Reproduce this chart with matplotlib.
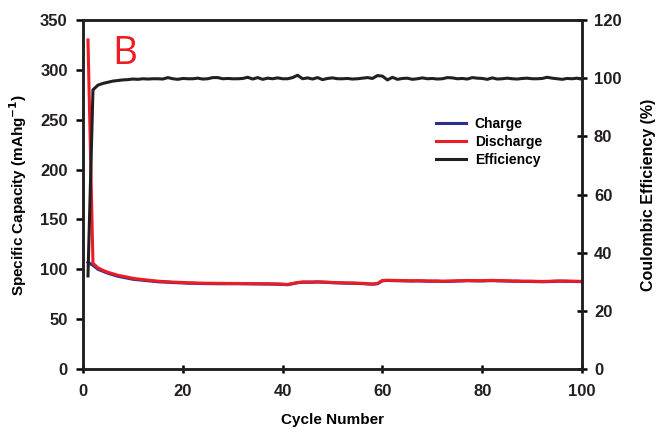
import numpy as np
import matplotlib.pyplot as plt

plt.rcParams['font.family'] = ['Liberation Sans', 'DejaVu Sans']

cycles = list(range(1, 101))

charge = [107, 104, 100, 98, 96, 94.5, 93, 92, 91, 90,
          89.5, 89, 88.5, 88, 87.5, 87.2, 87, 86.7, 86.5, 86.3,
          86, 86, 85.8, 85.7, 85.6, 85.6, 85.5, 85.5, 85.5, 85.5,
          85.5, 85.4, 85.4, 85.3, 85.3, 85.2, 85.2, 85.1, 85, 84.8,
          84.5, 85.5, 86.5, 87, 87, 87, 87.2, 87, 86.8, 86.5,
          86.3, 86.2, 86, 86, 85.8, 85.6, 85.3, 85, 85.5, 88.5,
          88.8, 88.6, 88.5, 88.4, 88.3, 88.2, 88.3, 88.2, 88, 88,
          88, 87.8, 87.9, 88, 88.2, 88.3, 88.5, 88.4, 88.3, 88.3,
          88.5, 88.6, 88.4, 88.3, 88.2, 88, 88, 87.8, 87.8, 87.8,
          87.6, 87.5, 87.6, 87.8, 88, 88, 87.9, 87.8, 87.7, 87.6]

discharge = [330, 106, 101.5, 99, 97, 95.5, 94, 93, 92, 91,
             90.3, 89.7, 89.2, 88.6, 88.1, 87.8, 87.5, 87.2, 87, 86.8,
             86.5, 86.4, 86.2, 86.1, 86, 86, 85.9, 85.9, 85.8, 85.8,
             85.8, 85.7, 85.7, 85.6, 85.6, 85.5, 85.5, 85.4, 85.3, 85.1,
             84.8, 85.8, 86.8, 87.3, 87.3, 87.3, 87.5, 87.3, 87.1, 86.8,
             86.6, 86.5, 86.3, 86.3, 86.1, 85.9, 85.6, 85.3, 85.8, 88.8,
             89, 88.9, 88.8, 88.7, 88.6, 88.5, 88.6, 88.5, 88.3, 88.3,
             88.3, 88.1, 88.2, 88.3, 88.5, 88.6, 88.8, 88.7, 88.6, 88.6,
             88.8, 88.9, 88.7, 88.6, 88.5, 88.3, 88.3, 88.1, 88.1, 88.1,
             87.9, 87.8, 87.9, 88.1, 88.3, 88.3, 88.2, 88.1, 88, 87.9]

efficiency = [32, 96, 97.6, 98.2, 98.6, 99, 99.2, 99.4, 99.5, 99.7,
              99.6, 99.8, 99.7, 99.8, 99.8, 99.7, 100.2, 99.8, 99.6, 99.9,
              99.8, 99.8, 100, 99.7, 99.8, 100.2, 100.2, 99.8, 99.9, 99.8,
              99.8, 99.9, 100.3, 99.7, 100.2, 99.6, 100, 99.8, 100.1, 99.8,
              99.8, 100.2, 101, 99.8, 100.1, 99.7, 100.2, 99.5, 99.9, 100.1,
              99.8, 99.8, 99.9, 99.7, 99.8, 100, 100.2, 99.9, 100.9, 100.7,
              99.4, 100.3, 99.6, 99.9, 100, 99.6, 99.8, 100.1, 99.8, 99.9,
              99.7, 99.8, 100.2, 100.1, 99.8, 99.9, 99.7, 100.2, 100, 99.9,
              99.6, 100.1, 99.7, 99.8, 100, 99.8, 99.7, 99.9, 100, 99.8,
              99.8, 99.9, 100.3, 100, 99.8, 99.6, 99.9, 99.8, 100, 99.6]

fig = plt.figure(figsize=(6.57, 4.33), dpi=100)
ax = fig.add_axes([0.1263, 0.1478, 0.7597, 0.806])
ax2 = ax.twinx()

l1, = ax.plot(cycles, charge, color='#2b2f8f', lw=2.2, label='Charge')
l2, = ax.plot(cycles, discharge, color='#ed1c24', lw=2.2, label='Discharge')
l3, = ax2.plot(cycles, efficiency, color='#231f20', lw=2.2, label='Efficiency')

ax.set_xlim(0, 100)
ax.set_ylim(0, 350)
ax2.set_ylim(0, 120)
ax.set_xticks([0, 20, 40, 60, 80, 100])
ax.set_yticks(range(0, 351, 50))
ax2.set_yticks(range(0, 121, 20))

for a in (ax, ax2):
    for s in a.spines.values():
        s.set_linewidth(1.8)
        s.set_color('#231f20')
    for lab in a.get_xticklabels() + a.get_yticklabels():
        lab.set_fontweight('bold')
        lab.set_color('#231f20')
ax.tick_params(axis='x', direction='inout', length=6, width=1.8, labelsize=12, pad=8)
ax.tick_params(axis='y', direction='out', length=5, width=1.8, labelsize=12, pad=6)
ax2.tick_params(axis='y', direction='inout', length=7, width=1.8, labelsize=12, pad=5)

ax.set_xlabel('Cycle Number', fontsize=11, fontweight='bold', labelpad=10)
ax.set_ylabel('Specific Capacity (mAhg$^{\\mathbf{-1}}$)', fontsize=11, fontweight='bold', labelpad=8)
ax2.set_ylabel('Coulombic Efficiency (%)', fontsize=11.5, fontweight='bold', labelpad=14)

ax.text(0.058, 0.875, 'B', transform=ax.transAxes, color='#ed1c24', fontsize=28,
        fontfamily='Open Sans')

leg = ax.legend(handles=[l1, l2, l3], loc='center left', bbox_to_anchor=(0.693, 0.65),
                frameon=False, prop={'weight': 'bold', 'size': 10}, borderpad=0,
                handlelength=2.2, labelspacing=0.3, handletextpad=0.6)

fig.savefig('out.png', dpi=100)
